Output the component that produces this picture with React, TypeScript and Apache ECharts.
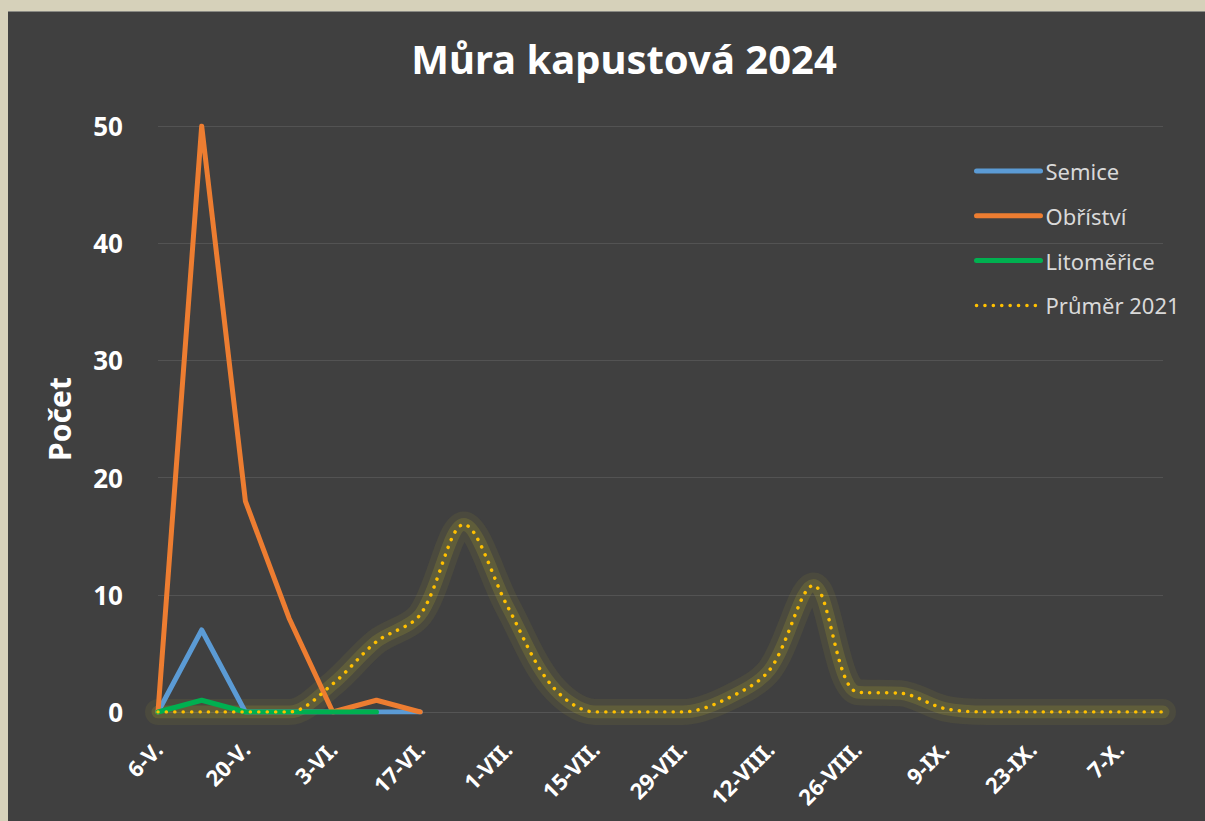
import React, { useEffect, useRef } from 'react';
import * as echarts from 'echarts';

const categories = [
  '6-V.', '13-V.', '20-V.', '27-V.', '3-VI.', '10-VI.', '17-VI.', '24-VI.',
  '1-VII.', '8-VII.', '15-VII.', '22-VII.', '29-VII.', '5-VIII.', '12-VIII.', '19-VIII.',
  '26-VIII.', '2-IX.', '9-IX.', '16-IX.', '23-IX.', '30-IX.', '7-X.', '14-X.',
];
const semice = [0, 7, 0, 0, 0, 0, 0];
const obristvi = [0, 50, 18, 8, 0, 1, 0];
const litomerice = [0, 1, 0, 0, 0, 0];
const prumer2021 = [0, 0, 0, 0, 2.4, 6, 8.3, 16, 9, 2.3, 0, 0, 0, 1.1, 3.6, 10.8, 1.7, 1.6, 0.3, 0, 0, 0, 0, 0];
const yMin = 0;
const yMax = 50;
const yInterval = 10;
const titleText = 'Můra kapustová 2024';
const yName = 'Počet';

const FONT = '"Noto Sans", "Open Sans", sans-serif';
const BLUE = '#5B9BD5';
const ORANGE = '#ED7D31';
const GREEN = '#00B050';
const YELLOW = '#FFC000';
const SMOOTH = 0.33;

export default function App() {
  const ref = useRef<HTMLDivElement>(null);
  useEffect(() => {
    document.body.style.margin = '0';
    const chart = echarts.init(ref.current!, null, { renderer: 'svg' });
    const solid = (color: string) => ({ color, width: 5, cap: 'round', join: 'round' });
    const dotted = { color: YELLOW, width: 3.5, type: [0.1, 8.3], cap: 'round' };
    chart.setOption({
      animation: false,
      backgroundColor: '#404040',
      textStyle: { fontFamily: FONT },
      graphic: [
        {
          type: 'text',
          x: 616,
          y: 46,
          style: {
            text: titleText,
            fill: '#ffffff',
            fontSize: 40,
            fontWeight: 'bold',
            fontFamily: FONT,
            align: 'center',
            verticalAlign: 'middle',
          },
        },
      ],
      grid: { left: 150, right: 42, top: 114, bottom: 109 },
      legend: {
        orient: 'vertical',
        left: 961,
        top: 143,
        itemWidth: 64,
        itemHeight: 14,
        itemGap: 22.8,
        itemStyle: { color: 'transparent', borderColor: 'transparent', borderWidth: 0 },
        textStyle: { color: '#D9D9D9', fontSize: 22, fontFamily: FONT },
        data: [
          { name: 'Semice', lineStyle: solid(BLUE) },
          { name: 'Obříství', lineStyle: solid(ORANGE) },
          { name: 'Litoměřice', lineStyle: solid(GREEN) },
          { name: 'Průměr 2021', lineStyle: dotted },
        ],
      },
      xAxis: {
        type: 'category',
        data: categories,
        boundaryGap: false,
        axisLine: { show: true, lineStyle: { color: '#555555', width: 1 } },
        axisTick: { show: false },
        axisLabel: {
          interval: 1,
          rotate: 45,
          color: '#ffffff',
          fontWeight: 'bold',
          fontSize: 22,
          fontFamily: FONT,
          margin: 33,
        },
        splitLine: { show: false },
      },
      yAxis: {
        type: 'value',
        min: yMin,
        max: yMax,
        interval: yInterval,
        name: yName,
        nameLocation: 'middle',
        nameGap: 84,
        nameRotate: 90,
        nameTextStyle: { color: '#ffffff', fontSize: 30, fontWeight: 'bold', fontFamily: FONT },
        axisLine: { show: false },
        axisTick: { show: false },
        axisLabel: { color: '#ffffff', fontSize: 26, fontWeight: 'bold', fontFamily: FONT, margin: 35 },
        splitLine: { lineStyle: { color: '#535353', width: 1 } },
      },
      series: [
        {
          name: 'glow-outer',
          type: 'line',
          data: prumer2021,
          smooth: SMOOTH,
          symbol: 'none',
          silent: true,
          lineStyle: { color: 'rgba(200,190,40,0.08)', width: 26, cap: 'round', join: 'round' },
        },
        {
          name: 'glow-inner',
          type: 'line',
          data: prumer2021,
          smooth: SMOOTH,
          symbol: 'none',
          silent: true,
          lineStyle: { color: 'rgba(215,200,40,0.15)', width: 13, cap: 'round', join: 'round' },
        },
        { name: 'Semice', type: 'line', data: semice, symbol: 'none', lineStyle: solid(BLUE), itemStyle: { color: BLUE } },
        { name: 'Obříství', type: 'line', data: obristvi, symbol: 'none', lineStyle: solid(ORANGE), itemStyle: { color: ORANGE } },
        { name: 'Litoměřice', type: 'line', data: litomerice, symbol: 'none', lineStyle: solid(GREEN), itemStyle: { color: GREEN } },
        {
          name: 'Průměr 2021',
          type: 'line',
          data: prumer2021,
          smooth: SMOOTH,
          symbol: 'none',
          itemStyle: { color: YELLOW },
          lineStyle: dotted,
        },
      ],
    });
    return () => chart.dispose();
  }, []);
  return (
    <div style={{ width: 1205, height: 821, background: '#D6D1BA', position: 'relative', overflow: 'hidden' }}>
      <div
        ref={ref}
        style={{ position: 'absolute', left: 8, top: 11, width: 1197, height: 810, background: '#404040', borderTop: '1px solid #8a8a84', boxSizing: 'border-box' }}
      />
    </div>
  );
}
